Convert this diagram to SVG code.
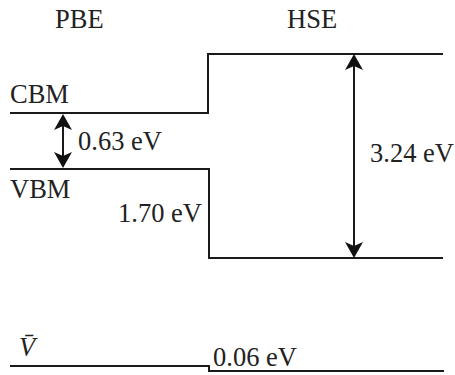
<svg xmlns="http://www.w3.org/2000/svg" width="455" height="375" viewBox="0 0 455 375">
<style>
.lv{fill:none;stroke:#1a1a1a;stroke-width:2;}
.ar{fill:none;stroke:#1a1a1a;stroke-width:2;marker-start:url(#ah);marker-end:url(#ah);}
text{font-family:"Liberation Serif","Times New Roman",serif;font-size:26.5px;fill:#222;}
</style>
<defs>
<marker id="ah" markerUnits="userSpaceOnUse" viewBox="0 0 16 18" refX="12" refY="9" markerWidth="16" markerHeight="18" orient="auto-start-reverse">
<path d="M16,9 L0,0 L4,9 L0,18 z" fill="#111"/>
</marker>
</defs>
<rect width="455" height="375" fill="#fff"/>
<g id="headers">
<text x="55" y="28">PBE</text>
<text x="287" y="28">HSE</text>
</g>
<g id="band-levels">
<path class="lv" d="M10,113 H208 V54 H443"/>
<path class="lv" d="M10,169 H209 V258 H443"/>
<path class="lv" d="M10,366 H209 V371 H444"/>
</g>
<g id="connectors">
<line class="ar" x1="63" y1="118" x2="63" y2="164"/>
<line class="ar" x1="354" y1="58" x2="354" y2="254"/>
</g>
<g id="labels">
<text x="10" y="103">CBM</text>
<text x="10" y="198">VBM</text>
<text x="78" y="150">0.63 eV</text>
<text x="202" y="222" text-anchor="end">1.70 eV</text>
<text x="370" y="162">3.24 eV</text>
<text x="19" y="356" font-style="italic">V̄</text>
<text x="213" y="366">0.06 eV</text>
</g>
</svg>
